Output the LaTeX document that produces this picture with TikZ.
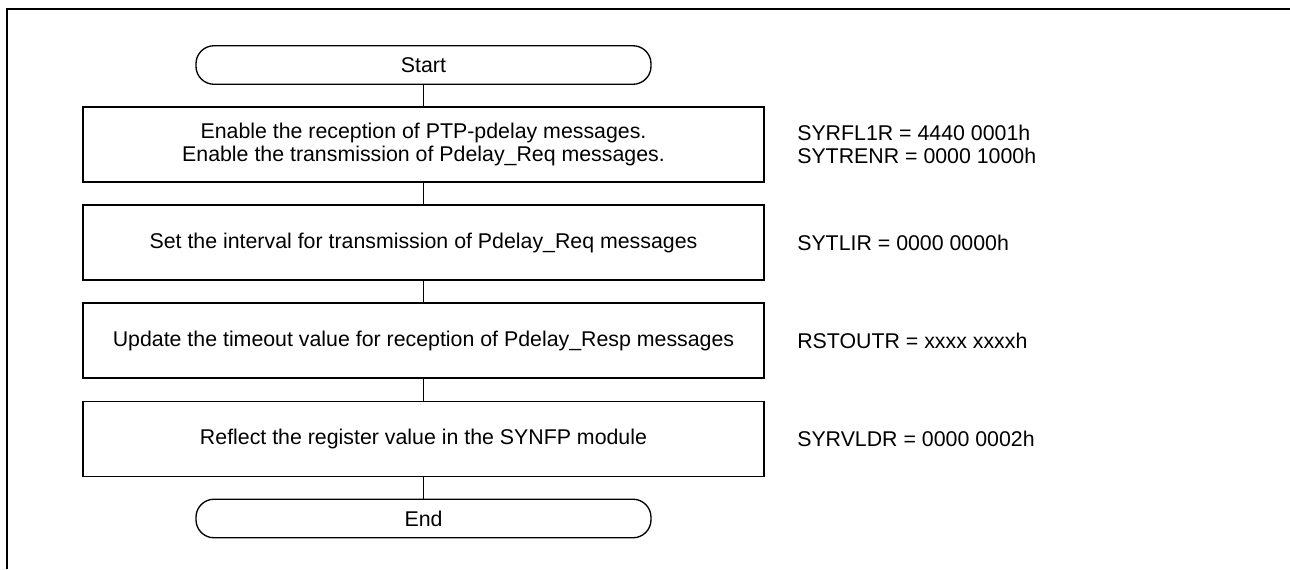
\documentclass[tikz,border=0pt]{standalone}
\usepackage{fontspec}
\setmainfont{Liberation Sans}
\begin{document}
\begin{tikzpicture}[x=0.75pt,y=-0.75pt,
  font=\fontsize{16}{17.25}\selectfont,
  procbox/.style={draw, line width=1pt, minimum width=510.75pt, minimum height=56.25pt, inner sep=0pt, align=center},
  termbox/.style={draw, line width=1pt, rounded corners=13.5pt, minimum width=341.25pt, minimum height=28.9pt, inner sep=0pt},
  regtext/.style={anchor=west, inner sep=0pt, align=left},
  conn/.style={line width=0.8pt}]
\useasboundingbox (0,0) rectangle (1290,569);
\coordinate (fbl) at (7,569);
\coordinate (ftl) at (7,9);
\coordinate (ftr) at (1290,9);
\draw[line width=2pt] (fbl) -- (ftl) -- (ftr);

\node[termbox] (start) at (423.5,65) {Start};
\node[procbox] (b1) at (423.5,144.5) {Enable the reception of PTP-pdelay messages.\\Enable the transmission of Pdelay\_Req messages.};
\node[procbox] (b2) at (423.5,242.5) {Set the interval for transmission of Pdelay\_Req messages};
\node[procbox] (b3) at (423.5,340.5) {Update the timeout value for reception of Pdelay\_Resp messages};
\node[procbox] (b4) at (423.5,439) {Reflect the register value in the SYNFP module};
\node[termbox] (end) at (423.5,518.5) {End};

\draw[conn] (start) -- (b1);
\draw[conn] (b1) -- (b2);
\draw[conn] (b2) -- (b3);
\draw[conn] (b3) -- (b4);
\draw[conn] (b4) -- (end);

\node[regtext] (r1) at (797,144.5) {SYRFL1R = 4440 0001h\\SYTRENR = 0000 1000h};
\node[regtext] (r2) at (797,242.5) {SYTLIR = 0000 0000h};
\node[regtext] (r3) at (797,340.5) {RSTOUTR = xxxx xxxxh};
\node[regtext] (r4) at (797,439) {SYRVLDR = 0000 0002h};
\end{tikzpicture}
\end{document}
